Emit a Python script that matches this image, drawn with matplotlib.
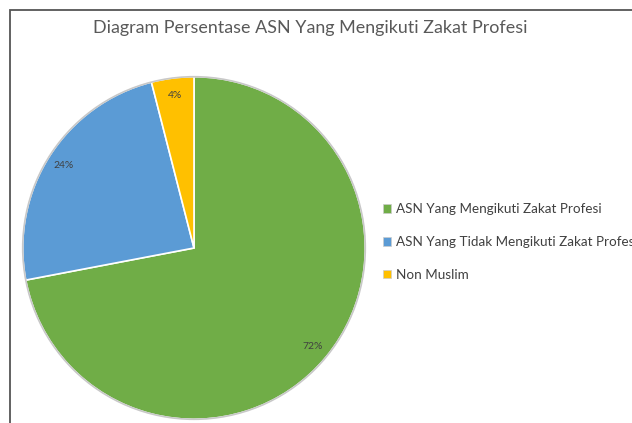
import matplotlib.pyplot as plt
from matplotlib.patches import Rectangle, Patch, Circle

title = "Diagram Persentase ASN Yang Mengikuti Zakat Profesi"
labels = ["ASN Yang Mengikuti Zakat Profesi",
          "ASN Yang Tidak Mengikuti Zakat Profesi",
          "Non Muslim"]
values = [72, 24, 4]
colors = ["#70AD47", "#5B9BD5", "#FFC000"]

plt.rcParams['font.family'] = ['Lato', 'DejaVu Sans']

fig = plt.figure(figsize=(6.32, 4.23), dpi=100)

# chart frame (cropped screenshot, only top/left edges visible)
fig.patches.append(Rectangle((10 / 632, -0.1), 1.2, 1 - 10 / 423 + 0.1,
                             transform=fig.transFigure, fill=False,
                             edgecolor="#555555", linewidth=1.3))

fig.text(310 / 632, 1 - 28 / 423, title, ha="center", va="center",
         fontsize=12.9, color="#595959")

cx, cy, r = 194, 248, 173
ax = fig.add_axes([(cx - r) / 632, (423 - cy - r) / 423, 2 * r / 632, 2 * r / 423])
wedges, texts, autotexts = ax.pie(
    values, colors=colors, startangle=90, counterclock=False,
    autopct="%d%%", pctdistance=0.9,
    wedgeprops=dict(edgecolor="white", linewidth=1.2),
    textprops=dict(fontsize=7.5, color="#404040"))
ax.add_patch(Circle((0, 0), 1.0, fill=False, edgecolor="#c8c8c8", linewidth=1.2))
ax.set_xlim(-1.01, 1.01)
ax.set_ylim(-1.01, 1.01)
ax.axis("off")

# legend runs off the right edge, as in the cropped original
handles = [Patch(facecolor=c, edgecolor="#cccccc", linewidth=0.5) for c in colors]
fig.legend(handles, labels, loc="center left",
           bbox_to_anchor=(378 / 632, 1 - 242 / 423), frameon=False,
           fontsize=9.7, labelcolor="#404040", handlelength=0.6, handleheight=0.6,
           handletextpad=0.3, labelspacing=1.55, borderaxespad=0)

fig.savefig("out.png", dpi=100, facecolor="white")
